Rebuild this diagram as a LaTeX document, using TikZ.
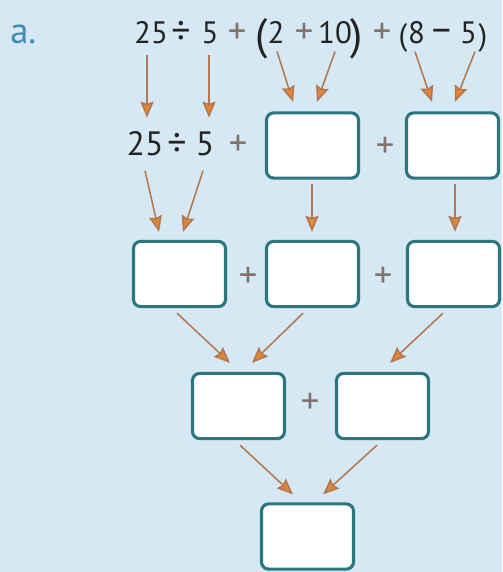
\documentclass[tikz,border=0pt]{standalone}
\usepackage{fontspec}
\setmainfont{PT Sans}
\usetikzlibrary{arrows.meta}
\usetikzlibrary{calc}

\definecolor{bgblue}{RGB}{214,232,243}
\definecolor{boxteal}{RGB}{45,118,126}
\definecolor{arrbrown}{RGB}{178,120,82}
\definecolor{arrhead}{RGB}{222,135,55}
\definecolor{plusgray}{RGB}{130,112,108}
\definecolor{labelblue}{RGB}{60,140,180}
\definecolor{digit}{RGB}{35,35,35}

\begin{document}
\begin{tikzpicture}[x=0.025cm,y=-0.025cm,
        num/.style={anchor=base,inner sep=0pt,text=digit,font=\fontsize{22}{26}\selectfont},
        numb/.style={anchor=base,inner sep=0pt,text=digit,font=\fontsize{24}{28}\selectfont},
        oper/.style={anchor=base,inner sep=0pt,text=digit,font=\fontsize{27}{30}\selectfont},
        bigpar/.style={anchor=base,inner sep=0pt,text=digit,font=\fontsize{31}{34}\selectfont},
        plus/.style={inner sep=0pt,text=plusgray,font=\fontsize{26}{30}\selectfont},
        ansbox/.style={draw=boxteal,line width=2.2pt,fill=white,rounded corners=0.18cm,
            minimum width=2.3cm,minimum height=1.63cm,inner sep=0pt},
        arr/.style={arrbrown,line width=1.1pt,
            -{Stealth[length=0.4cm,width=0.33cm,inset=0.05cm,fill=arrhead]}}]

        \fill[bgblue] (0,0) rectangle (502,572);
        \useasboundingbox (0,0) rectangle (502,572);

        \node[anchor=base west,inner sep=0pt,text=labelblue,font=\fontsize{26}{28}\selectfont] (lbl) at (10,44) {a.};

        \node[num] (p25) at (151,44) {25};
        \node[oper] (pdiv) at (181,44) {÷};
        \node[num] (p5) at (210,44) {5};
        \node[plus,anchor=base] (pplusa) at (237,44) {+};
        \node[bigpar] (plpar) at (262,49) {(};
        \node[num] (p2) at (276,44) {2};
        \node[plus,anchor=base] (pplusb) at (304,44) {+};
        \node[num] (p10) at (335,44) {10};
        \node[bigpar] (prpar) at (357,49) {)};
        \node[plus,anchor=base] (pplusc) at (382,44) {+};
        \node[num] (qlpar) at (403,46) {(};
        \node[num] (p8) at (416.5,44) {8};
        \node[oper] (pminus) at (441.5,44) {−};
        \node[num] (p55) at (468.5,44) {5};
        \node[num] (qrpar) at (483,46) {)};

        \node[numb] (s25) at (145,155) {25};
        \node[oper] (sdiv) at (177,155) {÷};
        \node[numb] (s5) at (205,155) {5};
        \node[plus,anchor=base] (splusa) at (238,155) {+};
        \node[ansbox] (b21) at (312.5,145.5) {};
        \node[plus] (splusb) at (385,147) {+};
        \node[ansbox] (b22) at (452.5,145.5) {};

        \node[ansbox] (b31) at (179.5,274) {};
        \node[plus] at (248,277) {+};
        \node[ansbox] (b32) at (312.5,274) {};
        \node[plus] at (383,277) {+};
        \node[ansbox] (b33) at (453.5,274) {};

        \node[ansbox] (b41) at (238.5,406) {};
        \node[plus] at (310,403) {+};
        \node[ansbox] (b42) at (382.5,406) {};

        \node[ansbox] (b51) at (307.5,536.5) {};

        \draw[arr] ($(p25.south)+(-4,10)$) -- ($(s25.south)+(2,-38)$);
        \draw[arr] ($(p5.south)+(-1,10)$) -- ($(s5.south)+(4,-38)$);
        \draw[arr] ($(p2.south)+(1,7)$) -- ($(b21.north)+(-19.5,-9.5)$);
        \draw[arr] ($(p10.south)+(0,7)$) -- ($(b21.north)+(4.5,-9.5)$);
        \draw[arr] ($(p8.south)+(-1.5,7)$) -- ($(b22.north)+(-20.5,-9.5)$);
        \draw[arr] ($(p55.south)+(6.5,7)$) -- ($(b22.north)+(2.5,-9.5)$);

        \draw[arr] ($(s25.south)+(0,15)$) -- ($(b31.north)+(-20.5,-8)$);
        \draw[arr] ($(s5.south)+(-2,15)$) -- ($(b31.north)+(3.5,-8)$);
        \draw[arr] ($(b21.south)+(-0.5,4.5)$) -- ($(b32.north)+(-0.5,-8)$);
        \draw[arr] ($(b22.south)+(2.5,4.5)$) -- ($(b33.north)+(1.5,-8)$);

        \draw[arr] ($(b31.south)+(-2.5,5)$) -- ($(b41.north)+(-8.5,-9)$);
        \draw[arr] ($(b32.south)+(-9.5,5)$) -- ($(b41.north)+(13.5,-9)$);
        \draw[arr] ($(b33.south)+(-10.5,5)$) -- ($(b42.north)+(7.5,-9)$);

        \draw[arr] ($(b41.south)+(1.5,5)$) -- ($(b51.north)+(-14.5,-8)$);
        \draw[arr] ($(b42.south)+(-5.5,5)$) -- ($(b51.north)+(15.5,-8)$);
    \end{tikzpicture}
\end{document}
